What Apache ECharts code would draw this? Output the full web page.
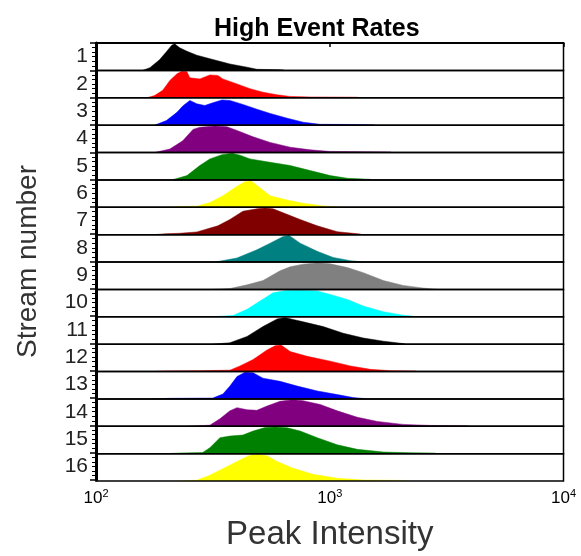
<!DOCTYPE html>
<html>
<head>
<meta charset="utf-8">
<script src="https://cdn.jsdelivr.net/npm/echarts@6/dist/echarts.min.js"></script>
<style>
  html, body { margin: 0; padding: 0; background: #fff; }
  #chart { width: 581px; height: 556px; }
</style>
</head>
<body>
<div id="chart"></div>
<script>
// [peak intensity, relative count] per stream
const stream1 = [[158, 0], [170, 0.1], [187, 0.4], [200, 0.7], [211, 0.95], [217, 1.0], [228, 0.85], [245, 0.72], [270, 0.57], [316, 0.41], [374, 0.24], [443, 0.12], [488, 0.04], [555, 0.03], [632, 0.02], [640, 0]]
const stream2 = [[165, 0], [178, 0.08], [193, 0.28], [207, 0.65], [222, 0.9], [233, 1.0], [245, 0.98], [252, 0.75], [278, 0.71], [307, 0.86], [332, 0.84], [349, 0.71], [401, 0.52], [456, 0.34], [518, 0.21], [596, 0.11], [677, 0.05], [825, 0.03], [1312, 0.02], [1325, 0]]
const stream3 = [[178, 0], [200, 0.17], [222, 0.48], [235, 0.72], [252, 0.93], [270, 0.8], [292, 0.74], [316, 0.84], [346, 0.95], [374, 0.93], [425, 0.78], [488, 0.6], [556, 0.44], [658, 0.26], [770, 0.11], [910, 0.03], [1537, 0.02], [1550, 0]]
const stream4 = [[178, 0], [207, 0.13], [235, 0.44], [260, 0.87], [278, 0.95], [323, 1.0], [363, 0.97], [401, 0.83], [470, 0.59], [556, 0.38], [677, 0.2], [825, 0.1], [1005, 0.04], [1819, 0.02], [1840, 0]]
const stream5 = [[211, 0], [245, 0.16], [278, 0.54], [307, 0.79], [346, 0.95], [382, 1.0], [413, 0.93], [456, 0.79], [556, 0.66], [677, 0.54], [825, 0.35], [1005, 0.16], [1190, 0.06], [1492, 0.02], [1510, 0]]
const stream6 = [[207, 0], [228, 0.03], [270, 0.04], [307, 0.18], [349, 0.43], [401, 0.79], [434, 0.96], [460, 1.0], [503, 0.73], [556, 0.43], [658, 0.27], [770, 0.15], [937, 0.05], [1130, 0]]
const stream7 = [[178, 0], [197, 0.03], [228, 0.05], [270, 0.1], [332, 0.33], [374, 0.57], [425, 0.88], [488, 0.97], [529, 1.0], [572, 0.97], [632, 0.82], [747, 0.57], [884, 0.33], [1077, 0.11], [1352, 0.02], [1365, 0]]
const stream8 = [[323, 0], [401, 0.15], [488, 0.46], [556, 0.71], [632, 0.96], [670, 1.0], [747, 0.71], [884, 0.4], [1035, 0.17], [1225, 0.05], [1392, 0]]
const stream9 = [[316, 0], [374, 0.03], [443, 0.17], [518, 0.33], [613, 0.7], [677, 0.85], [770, 0.95], [892, 1.0], [1005, 0.96], [1190, 0.82], [1392, 0.63], [1697, 0.33], [2060, 0.15], [2500, 0.05], [2880, 0]]
const stream10 = [[310, 0], [386, 0.05], [443, 0.28], [503, 0.59], [572, 0.9], [644, 0.98], [747, 1.0], [884, 0.97], [1005, 0.84], [1190, 0.65], [1392, 0.4], [1697, 0.19], [2060, 0.06], [2390, 0]]
const stream11 = [[316, 0], [374, 0.05], [443, 0.29], [518, 0.66], [596, 0.95], [644, 1.0], [697, 0.93], [770, 0.84], [937, 0.66], [1142, 0.41], [1392, 0.23], [1697, 0.11], [2060, 0.02], [2110, 0]]
const stream12 = [[175, 0], [197, 0.02], [278, 0.03], [374, 0.05], [413, 0.21], [470, 0.45], [539, 0.81], [584, 0.97], [619, 1.0], [677, 0.75], [801, 0.57], [1005, 0.39], [1225, 0.21], [1492, 0.08], [1819, 0.03], [2330, 0.02], [2350, 0]]
const stream13 = [[173, 0], [207, 0.02], [316, 0.03], [349, 0.18], [374, 0.48], [401, 0.84], [434, 1.0], [470, 0.98], [518, 0.78], [613, 0.66], [726, 0.48], [884, 0.3], [1077, 0.16], [1260, 0.05], [1450, 0]]
const stream14 = [[247, 0], [278, 0.02], [307, 0.04], [339, 0.28], [374, 0.58], [401, 0.7], [443, 0.62], [488, 0.6], [539, 0.76], [613, 0.94], [697, 1.0], [770, 0.96], [910, 0.82], [1077, 0.58], [1312, 0.34], [1600, 0.18], [2060, 0.07], [2700, 0.03], [3900, 0.02], [3940, 0]]
const stream15 = [[200, 0], [228, 0.02], [286, 0.04], [307, 0.22], [339, 0.6], [374, 0.66], [425, 0.7], [470, 0.85], [529, 0.98], [584, 1.0], [658, 0.97], [747, 0.85], [884, 0.6], [1077, 0.33], [1312, 0.16], [1697, 0.06], [2270, 0.03], [2820, 0.02], [2850, 0]]
const stream16 = [[224, 0], [270, 0.03], [307, 0.22], [363, 0.54], [413, 0.79], [456, 0.97], [493, 1.0], [539, 0.95], [596, 0.73], [697, 0.48], [849, 0.25], [1077, 0.1], [1392, 0.04], [2110, 0.02], [2130, 0]]

const streams = [stream1, stream2, stream3, stream4, stream5, stream6, stream7, stream8,
  stream9, stream10, stream11, stream12, stream13, stream14, stream15, stream16]
const streamLabels = ['1', '2', '3', '4', '5', '6', '7', '8', '9', '10', '11', '12', '13', '14', '15', '16']
const streamColors = ['#000000', '#ff0000', '#0000ff', '#800080', '#008000', '#ffff00', '#800000', '#008080',
  '#808080', '#00ffff', '#000000', '#ff0000', '#0000ff', '#800080', '#008000', '#ffff00']
const xTickExponents = [2, 3, 4]

const FONT = 'Liberation Sans, Arial, sans-serif'
const plotLeft = 96
const plotRight = 17.5
const plotTop = 43
const plotHeight = 438
const rowH = plotHeight / streams.length

const grids = []
const xAxes = []
const yAxes = []
const series = []

streams.forEach((data, i) => {
  grids.push({
    left: plotLeft, right: plotRight,
    top: plotTop + i * rowH, height: rowH,
    show: true, z: 3,
    backgroundColor: 'transparent',
    borderColor: '#000', borderWidth: 1.5
  })
  xAxes.push({ type: 'log', gridIndex: i, min: 100, max: 10000, show: false })
  yAxes.push({ type: 'value', gridIndex: i, min: 0, max: 1.03, show: false })
  series.push({
    type: 'line',
    xAxisIndex: i,
    yAxisIndex: i,
    data: data,
    showSymbol: false,
    symbol: 'none',
    silent: true,
    z: 1,
    lineStyle: { width: 0.5, color: streamColors[i] },
    areaStyle: { color: streamColors[i], opacity: 1 }
  })
})

// overlay grid carrying the visible axes
const axisGrid = streams.length
grids.push({ left: plotLeft, right: plotRight, top: plotTop, height: plotHeight, z: 4 })

xAxes.push({
  type: 'log',
  gridIndex: axisGrid,
  min: 100,
  max: 10000,
  z: 5,
  axisLine: { show: true, lineStyle: { color: '#000', width: 2 } },
  axisTick: { show: true, length: 4, lineStyle: { color: '#000', width: 1.5 } },
  minorTick: { show: false },
  splitLine: { show: false },
  axisLabel: {
    margin: 8,
    formatter: v => {
      const e = xTickExponents.find(p => Math.abs(Math.log10(v) - p) < 0.01)
      return '{b|10}{s|' + e + '}'
    },
    rich: {
      b: { fontSize: 17, fontFamily: FONT, color: '#000' },
      s: { fontSize: 11, fontFamily: FONT, color: '#000', verticalAlign: 'top', padding: [0, 0, 9, 0] }
    }
  },
  name: 'Peak Intensity',
  nameLocation: 'middle',
  nameGap: 38,
  nameTextStyle: { fontSize: 33, fontFamily: FONT, color: '#333' }
})

yAxes.push({
  type: 'value',
  gridIndex: axisGrid,
  min: 0,
  max: 16,
  interval: 1,
  inverse: true,
  z: 5,
  axisLine: { show: true, lineStyle: { color: '#000', width: 3 } },
  axisTick: { show: true, length: 6, lineStyle: { color: '#000', width: 1.5 } },
  minorTick: { show: true, splitNumber: 6, length: 4, lineStyle: { color: '#000', width: 1 } },
  axisLabel: { show: false },
  splitLine: { show: false },
  name: 'Stream number',
  nameLocation: 'middle',
  nameGap: 54,
  nameTextStyle: { fontSize: 28, fontFamily: FONT, color: '#333' }
})

yAxes.push({
  type: 'category',
  gridIndex: axisGrid,
  data: streamLabels,
  inverse: true,
  position: 'left',
  offset: 0,
  z: 5,
  axisLine: { show: false },
  axisTick: { show: false },
  splitLine: { show: false },
  axisLabel: { interval: 0, fontSize: 21, fontFamily: FONT, color: '#222', margin: 8 }
})

const chart = echarts.init(document.getElementById('chart'), null, { renderer: 'canvas' })
chart.setOption({
  animation: false,
  backgroundColor: '#fff',
  title: {
    text: 'High Event Rates',
    left: 209,
    top: 12,
    textStyle: { fontSize: 25, fontWeight: 'bold', fontFamily: FONT, color: '#000' }
  },
  grid: grids,
  xAxis: xAxes,
  yAxis: yAxes,
  series: series
})
</script>
</body>
</html>
